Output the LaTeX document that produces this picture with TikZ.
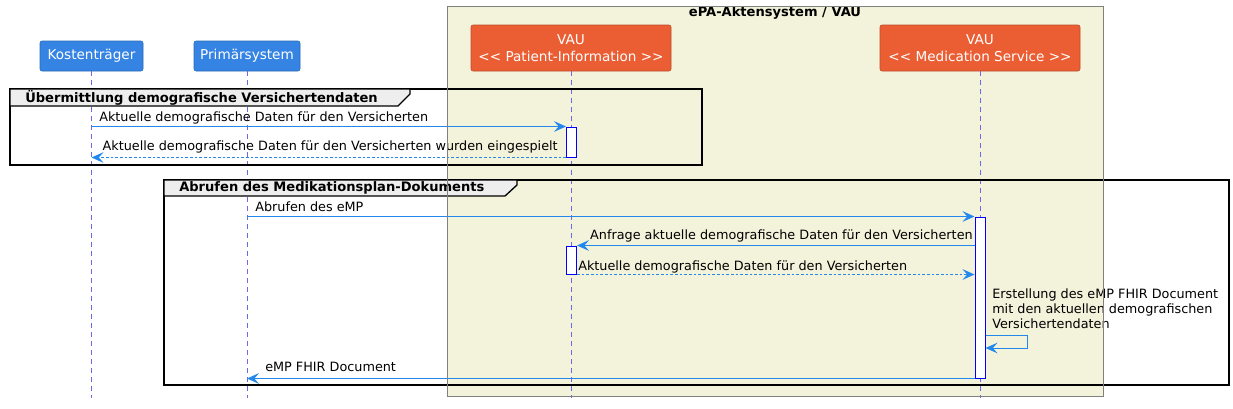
\documentclass[tikz,border=0pt]{standalone}
\usepackage{fontspec}
\setmainfont{DejaVu Sans}
\usetikzlibrary{arrows.meta}
\definecolor{kbblue}{HTML}{3584E4}
\definecolor{vauorange}{HTML}{EB5E34}
\definecolor{boxbeige}{HTML}{F3F3DB}
\definecolor{boxgray}{HTML}{808080}
\definecolor{msgblue}{HTML}{2288EE}
\definecolor{lifeblue}{HTML}{6A6AE6}
\definecolor{tabgray}{HTML}{EEEEEE}
\def\vaubox{(447,6) rectangle (1103,396)}
\def\groupone{(10,89) rectangle (702,165)}
\def\grouptwo{(164,180) rectangle (1229,385)}
\def\tabone{(10,89) -- (410,89) -- (410,94) -- (398,106) -- (10,106) -- cycle}
\def\tabtwo{(164,180) -- (517,180) -- (517,185) -- (505,196) -- (164,196) -- cycle}
\tikzset{
  actor/.style={fill=#1, draw=#1!80!black, rounded corners=1.5pt, text=white,
    font=\fontsize{10.2}{12.5}\selectfont, align=center, inner sep=0pt, minimum height=22.5pt},
  life/.style={draw=lifeblue, line width=0.75pt, dash pattern=on 3.75pt off 3pt},
  act/.style={draw=blue, fill=white, line width=0.75pt, minimum width=7.5pt, inner sep=0pt},
  msg/.style={draw=msgblue, line width=0.75pt, -{Stealth[length=9pt,width=8pt,inset=3.5pt]}},
  ret/.style={msg, dash pattern=on 2pt off 1.5pt},
  lbl/.style={font=\fontsize{9.6}{11.25}\selectfont, inner sep=0pt},
  grp/.style={draw=black, line width=1.5pt},
  grptitle/.style={font=\bfseries\fontsize{9.8}{11}\selectfont, inner sep=0pt, anchor=west}
}

\begin{document}
\begin{tikzpicture}[x=0.75pt, y=-0.75pt]
   \useasboundingbox (0,0) rectangle (1233,408);
   \fill[boxbeige] \vaubox;
   \node[font=\bfseries\fontsize{9.8}{11}\selectfont, inner sep=0pt] (vautitle) at (775,13) {ePA-Aktensystem / VAU};

   % teilnehmer
   \node[actor=kbblue, minimum width=77.25pt] (kosten) at (91.5,56) {Kostenträger};
   \node[actor=kbblue, minimum width=79.5pt] (prim) at (247,56) {Primärsystem};
   \node[actor=vauorange, minimum width=150pt, minimum height=34.5pt] (patinfo) at (571,48) {VAU\\<{}< Patient-Information >{}>};
   \node[actor=vauorange, minimum width=150pt, minimum height=34.5pt] (medserv) at (980,48) {VAU\\<{}< Medication Service >{}>};

   \coordinate (bottom) at (0,398);
   \draw[life] (kosten.south) -- (kosten.south |- bottom);
   \draw[life] (prim.south) -- (prim.south |- bottom);
   \draw[life] (patinfo.south) -- (patinfo.south |- bottom);
   \draw[life] (medserv.south) -- (medserv.south |- bottom);

   % gruppen
   \draw[grp] \groupone;
   \draw[grp] \grouptwo;
   \filldraw[fill=tabgray, draw=black, line width=1pt] \tabone;
   \filldraw[fill=tabgray, draw=black, line width=1pt] \tabtwo;
   \node[grptitle] (gone) at (25,97.5) {Übermittlung demografische Versichertendaten};
   \node[grptitle] (gtwo) at (179,188) {Abrufen des Medikationsplan-Dokuments};

   % aktivierungen
   \node[act, minimum height=22.5pt] (aone) at (571.5,142) {};
   \node[act, minimum height=120.75pt] (atwo) at (980,297.5) {};
   \node[act, minimum height=21pt] (athree) at (571.5,260) {};

   % nachrichten
   \draw[msg] (kosten.south |- aone.north) -- (aone.north west);
   \node[lbl, anchor=west] (lone) at (99,118) {Aktuelle demografische Daten für den Versicherten};
   \draw[ret] (aone.south west) -- (kosten.south |- aone.south);
   \node[lbl, anchor=east] (ltwo) at (558,147) {Aktuelle demografische Daten für den Versicherten wurden eingespielt};

   \draw[msg] (prim.south |- atwo.north) -- (atwo.north west);
   \node[lbl, anchor=west] (lthree) at (255,207) {Abrufen des eMP};
   \draw[msg] (atwo.west |- athree.north) -- (athree.north east);
   \node[lbl, anchor=east] (lfour) at (973,236) {Anfrage aktuelle demografische Daten für den Versicherten};
   \draw[ret] (athree.south east) -- (atwo.west |- athree.south);
   \node[lbl, anchor=west] (lfive) at (578,267) {Aktuelle demografische Daten für den Versicherten};

   \coordinate (selftop) at (1027,335);
   \coordinate (selfbot) at (1027,348);
   \draw[msg] (atwo.east |- selftop) -- (selftop) -- (selfbot) -- (atwo.east |- selfbot);
   \node[lbl, anchor=north west, align=left] (lsix) at (992,289) {Erstellung des eMP FHIR Document\\mit den aktuellen demografischen\\Versichertendaten};

   \draw[msg] (atwo.south west) -- (prim.south |- atwo.south);
   \node[lbl, anchor=west] (lseven) at (265,367) {eMP FHIR Document};

   \draw[boxgray, line width=0.75pt] \vaubox;
\end{tikzpicture}
\end{document}
